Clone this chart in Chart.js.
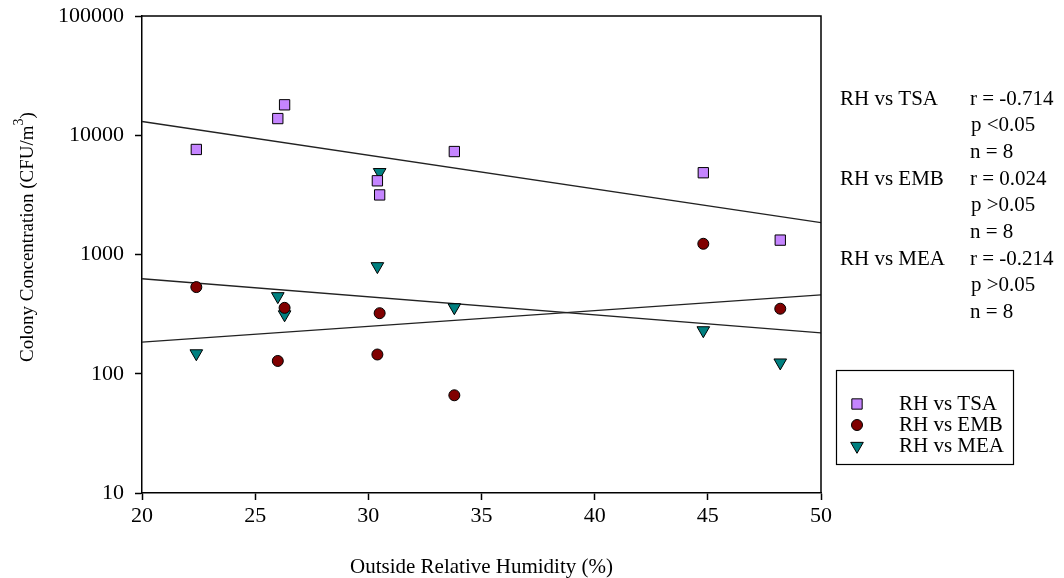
<!DOCTYPE html>
<html>
<head>
<meta charset="utf-8">
<script src="https://cdn.jsdelivr.net/npm/chart.js"></script>
<style>
  html, body { margin: 0; padding: 0; background: #fff; }
  #wrap { width: 1064px; height: 578px; }
</style>
</head>
<body>
<div id="wrap"><canvas id="canvas"></canvas></div>
<script>
  // outside RH (%) for the 8 sampling days
  const humidity = [22.4, 26.0, 26.3, 30.4, 30.5, 33.8, 44.8, 48.2];
  // colony counts, CFU/m3
  const tsa = [7600, 13800, 18000, 4150, 3160, 7300, 4850, 1320];
  const emb = [533, 128, 357, 145, 322, 66, 1230, 351];
  const mea = [148, 446, 314, 796, 4900, 360, 231, 124];

  // fitted lines, value at each end of the RH axis
  const fitX = [20, 50];
  const tsaFit = [13060, 1850];
  const embFit = [184, 459];
  const meaFit = [626, 220];

  const yTicks = [10, 100, 1000, 10000, 100000];
  const seriesNames = ['RH vs TSA', 'RH vs EMB', 'RH vs MEA'];
  const stats = [
    ['RH vs TSA', 'r = -0.714', 'p <0.05', 'n = 8'],
    ['RH vs EMB', 'r = 0.024', 'p >0.05', 'n = 8'],
    ['RH vs MEA', 'r = -0.214', 'p >0.05', 'n = 8']
  ];

  const serif = "'Liberation Serif', 'Times New Roman', serif";
  Chart.defaults.font.family = serif;
  Chart.defaults.color = '#000';

  const pts = (xs, ys) => xs.map((x, i) => ({ x: x, y: ys[i] }));

  const markers = [
    { pointStyle: 'rect', radius: 7.3, rotation: 0, backgroundColor: '#c585ff' },
    { pointStyle: 'circle', radius: 5.5, rotation: 0, backgroundColor: '#800000' },
    { pointStyle: 'triangle', radius: 7.3, rotation: 180, backgroundColor: '#008080' }
  ];

  function scatterSet(i, values) {
    const m = markers[i];
    return {
      label: seriesNames[i],
      data: pts(humidity, values),
      pointStyle: m.pointStyle,
      pointRadius: m.radius,
      rotation: m.rotation,
      backgroundColor: m.backgroundColor,
      borderColor: '#000',
      borderWidth: 1,
      showLine: false
    };
  }

  function fitSet(values) {
    return {
      label: 'fit',
      data: pts(fitX, values),
      showLine: true,
      pointRadius: 0,
      borderColor: '#222',
      borderWidth: 1.4,
      fill: false
    };
  }

  // frame, y title, r/p/n notes and the boxed key
  const sidePanel = {
    id: 'sidePanel',
    afterDraw(chart) {
      const ctx = chart.ctx;
      const a = chart.chartArea;
      ctx.save();
      ctx.strokeStyle = '#000';
      ctx.lineWidth = 1.5;
      ctx.beginPath();
      ctx.moveTo(a.left, a.top);
      ctx.lineTo(a.right, a.top);
      ctx.lineTo(a.right, a.bottom);
      ctx.stroke();

      // y axis title with superscript 3
      ctx.save();
      ctx.translate(28, 237);
      ctx.rotate(-Math.PI / 2);
      ctx.fillStyle = '#000';
      ctx.textBaseline = 'middle';
      ctx.textAlign = 'left';
      const main = 'Colony Concentration (CFU/m';
      ctx.font = '19px ' + serif;
      const wMain = ctx.measureText(main).width;
      const wClose = ctx.measureText(')').width;
      ctx.font = '14px ' + serif;
      const wSup = ctx.measureText('3').width;
      let x = -(wMain + wSup + wClose) / 2;
      ctx.font = '19px ' + serif;
      ctx.fillText(main, x, 0);
      x += wMain;
      ctx.font = '14px ' + serif;
      ctx.fillText('3', x, -9);
      x += wSup;
      ctx.font = '19px ' + serif;
      ctx.fillText(')', x, 0);
      ctx.restore();

      // correlation notes
      ctx.font = '21px ' + serif;
      ctx.fillStyle = '#000';
      ctx.textBaseline = 'middle';
      ctx.textAlign = 'left';
      let y = 99;
      stats.forEach(s => {
        ctx.fillText(s[0], 840, y);
        ctx.fillText(s[1], 970, y);
        ctx.fillText(s[2], 971, y + 26.7);
        ctx.fillText(s[3], 970, y + 53.4);
        y += 80.1;
      });

      // key box
      ctx.lineWidth = 1.2;
      ctx.strokeRect(836.5, 370.5, 177, 94);
      const rows = [404, 425, 446];
      markers.forEach((m, i) => {
        ctx.fillStyle = m.backgroundColor;
        ctx.strokeStyle = '#000';
        ctx.lineWidth = 1;
        Chart.helpers.drawPoint(ctx, { pointStyle: m.pointStyle, radius: m.radius, rotation: m.rotation, borderWidth: 1 }, 857, rows[i]);
        ctx.fillStyle = '#000';
        ctx.fillText(seriesNames[i], 899, rows[i]);
      });
      ctx.restore();
    }
  };

  const config = {
    type: 'scatter',
    data: {
      datasets: [
        scatterSet(0, tsa),
        scatterSet(1, emb),
        scatterSet(2, mea),
        fitSet(tsaFit),
        fitSet(embFit),
        fitSet(meaFit)
      ]
    },
    options: {
      responsive: true,
      maintainAspectRatio: false,
      animation: false,
      layout: { padding: { left: 0, right: 243, top: 16, bottom: 0 } },
      plugins: { legend: { display: false }, tooltip: { enabled: false } },
      scales: {
        x: {
          type: 'linear',
          min: 20,
          max: 50,
          ticks: { stepSize: 5, padding: 3, font: { size: 22 } },
          grid: { drawOnChartArea: false, tickLength: 7, tickColor: '#000', tickWidth: 1.5 },
          border: { color: '#000', width: 1.5 },
          title: { display: true, text: 'Outside Relative Humidity (%)', font: { size: 21 }, padding: { top: 0, bottom: -2 } },
          afterFit: s => { s.height = 85; }
        },
        y: {
          type: 'logarithmic',
          min: 10,
          max: 100000,
          afterBuildTicks: s => { s.ticks = yTicks.map(v => ({ value: v })); },
          ticks: { autoSkip: false, padding: 11, font: { size: 22 }, callback: v => String(v) },
          grid: { drawOnChartArea: false, tickLength: 7, tickColor: '#000', tickWidth: 1.5 },
          border: { color: '#000', width: 1.5 },
          afterFit: s => { s.width = 142; s.paddingTop = 0; }
        }
      }
    },
    plugins: [sidePanel]
  };

  const canvas = document.getElementById('canvas');
  const chart = new Chart(canvas, config);
</script>
</body>
</html>
